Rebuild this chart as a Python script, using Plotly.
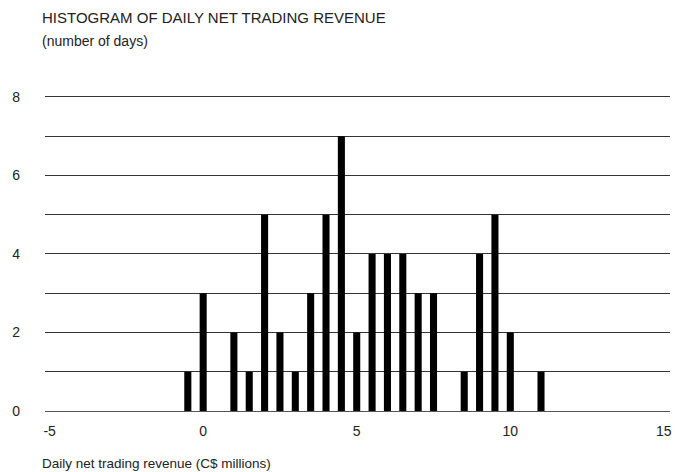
import plotly.graph_objects as go

revenue_bins = [-0.5, 0.0, 1.0, 1.5, 2.0, 2.5, 3.0, 3.5, 4.0, 4.5, 5.0, 5.5, 6.0, 6.5, 7.0, 7.5, 8.5, 9.0, 9.5, 10.0, 11.0]
days_count = [1, 3, 2, 1, 5, 2, 1, 3, 5, 7, 2, 4, 4, 4, 3, 3, 1, 4, 5, 2, 1]
x_ticks = [-5, 0, 5, 10, 15]
y_ticks = [0, 2, 4, 6, 8]

FONT = "Liberation Sans"
TXT = "#222222"
W, H = 678, 472
L, R, T, B = 45, 8, 93, 61
plot_w = W - L - R
plot_h = H - T - B


def px(x, y):
    return (x - L) / plot_w, (H - B - y) / plot_h


fig = go.Figure(go.Bar(
    x=revenue_bins, y=days_count, width=0.23,
    marker=dict(color="black", line=dict(width=0)),
))

anns = []
for text, xpix, ypix, size in [
    ("HISTOGRAM OF DAILY NET TRADING REVENUE", 40, 18, 15),
    ("(number of days)", 40, 41, 14),
    ("Daily net trading revenue (C$ millions)", 40, 463, 13.5),
]:
    ax, ay = px(xpix, ypix)
    anns.append(dict(text=text, x=ax, y=ay, xref="paper", yref="paper", showarrow=False,
                     xanchor="left", yanchor="middle", font=dict(size=size, color=TXT)))

fig.update_layout(
    width=W, height=H,
    margin=dict(l=L, r=R, t=T, b=B, autoexpand=False),
    paper_bgcolor="white", plot_bgcolor="white",
    showlegend=False,
    font=dict(family=FONT, size=14, color=TXT),
    annotations=anns,
)

fig.update_xaxes(
    range=[-5.15, 15.2], tickvals=x_ticks, ticktext=[str(v) for v in x_ticks],
    showgrid=False, zeroline=False, showline=False, ticks="",
    tickfont=dict(size=14, color=TXT), automargin=False, ticklabelstandoff=10,
)
fig.update_yaxes(
    range=[0, 8.1], tickvals=y_ticks, showgrid=True, gridcolor="#333333", gridwidth=1,
    minor=dict(dtick=1, showgrid=True, gridcolor="#333333", gridwidth=1),
    zeroline=True, zerolinecolor="#555555", zerolinewidth=1,
    ticks="", ticklabelstandoff=24, tickfont=dict(size=14, color=TXT), automargin=False,
)

fig.write_html("out.html", config={"displayModeBar": False},
               post_script="document.body.style.margin='0';document.body.style.overflow='hidden';")
